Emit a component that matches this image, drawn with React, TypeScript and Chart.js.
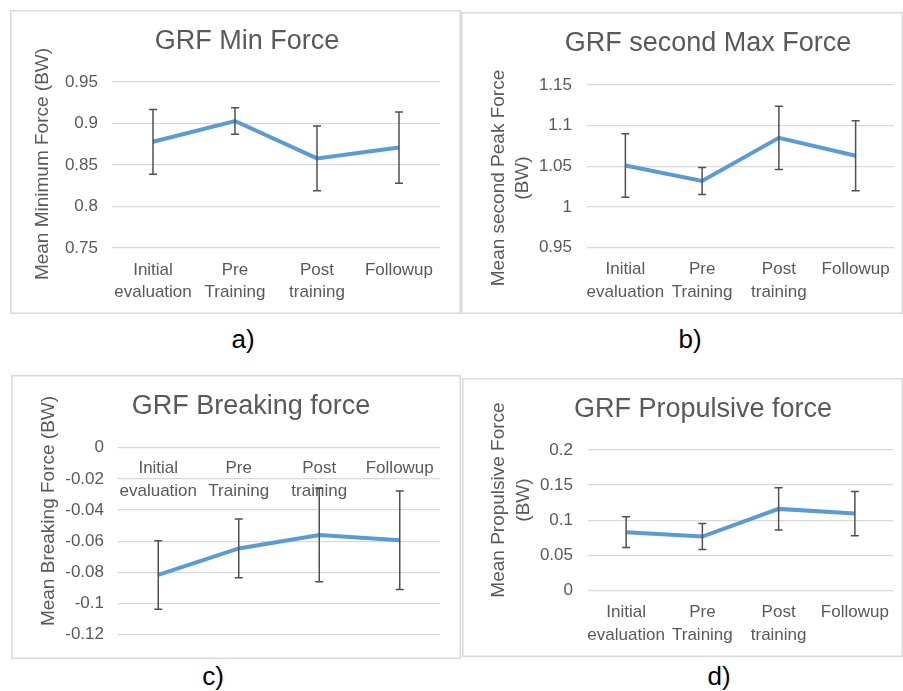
import { useEffect, useRef } from "react";
import { Chart, registerables } from "chart.js";

Chart.register(...registerables);

const FONT = "'Liberation Sans', Arial, Helvetica, sans-serif";
const GRAY = "#595959";
const BLUE = "#5b9bd5";
const GRID = "#d9d9d9";
const ERR = "#505050";

// ---- data ----
const categories: (string | string[])[] = [
  ["Initial", "evaluation"],
  ["Pre", "Training"],
  ["Post", "training"],
  "Followup",
];

const minForceMean = [0.878, 0.903, 0.858, 0.871];
const minForceErr = [0.039, 0.016, 0.039, 0.043];
const minForceTicks = [0.75, 0.8, 0.85, 0.9, 0.95];

const peakForceMean = [1.051, 1.032, 1.085, 1.063];
const peakForceErr = [0.039, 0.0165, 0.039, 0.043];
const peakForceTicks = [0.95, 1, 1.05, 1.1, 1.15];

const brakingMean = [-0.0816, -0.0646, -0.056, -0.0594];
const brakingErr = [0.022, 0.0188, 0.03, 0.0316];
const brakingTicks = [-0.12, -0.1, -0.08, -0.06, -0.04, -0.02, 0];

const propulsiveMean = [0.0831, 0.0769, 0.1162, 0.1095];
const propulsiveErr = [0.0218, 0.0185, 0.03, 0.0315];
const propulsiveTicks = [0, 0.05, 0.1, 0.15, 0.2];

interface PanelCfg {
  left: number;
  top: number;
  width: number;
  height: number;
  title: string;
  yTitle: string[];
  yTitleX: number[];
  yTitleY: number;
  mean: number[];
  err: number[];
  ticks: number[];
  padL: number;
  padR: number;
  padB: number;
  yWidth: number;
  xHeight: number;
  titlePadTop: number;
  titlePadBottom: number;
  yTickPad: number;
  xTickPad: number;
  xAtZero: boolean;
}

const panels: PanelCfg[] = [
  {
    left: 10, top: 10, width: 451, height: 304,
    title: "GRF Min Force",
    yTitle: ["Mean Minimum Force (BW)"], yTitleX: [33], yTitleY: 154,
    mean: minForceMean, err: minForceErr, ticks: minForceTicks,
    padL: 44, padR: 21, padB: 0, yWidth: 58, xHeight: 66,
    titlePadTop: 15.3, titlePadBottom: 24.3, yTickPad: 14, xTickPad: 11, xAtZero: false,
  },
  {
    left: 461, top: 12, width: 442, height: 302,
    title: "GRF second Max Force",
    yTitle: ["Mean second Peak Force", "(BW)"], yTitleX: [37.5, 61.5], yTitleY: 166,
    mean: peakForceMean, err: peakForceErr, ticks: peakForceTicks,
    padL: 61, padR: 9, padB: 0, yWidth: 65, xHeight: 66.3,
    titlePadTop: 15.6, titlePadBottom: 25, yTickPad: 15, xTickPad: 11, xAtZero: false,
  },
  {
    left: 11, top: 375, width: 450, height: 284,
    title: "GRF Breaking force",
    yTitle: ["Mean Breaking Force (BW)"], yTitleX: [38], yTitleY: 136,
    mean: brakingMean, err: brakingErr, ticks: brakingTicks,
    padL: 51, padR: 21, padB: 21.7, yWidth: 56, xHeight: 0,
    titlePadTop: 15.1, titlePadBottom: 25.2, yTickPad: 14, xTickPad: 10, xAtZero: true,
  },
  {
    left: 462, top: 378, width: 441, height: 279,
    title: "GRF Propulsive force",
    yTitle: ["Mean Propulsive Force", "(BW)"], yTitleX: [36.3, 61.5], yTitleY: 122,
    mean: propulsiveMean, err: propulsiveErr, ticks: propulsiveTicks,
    padL: 51, padR: 10, padB: 0, yWidth: 75, xHeight: 66.3,
    titlePadTop: 15.5, titlePadBottom: 24, yTickPad: 15, xTickPad: 11, xAtZero: false,
  },
];

const letters = [
  { text: "a)", x: 243, y: 339 },
  { text: "b)", x: 690, y: 339 },
  { text: "c)", x: 213, y: 676 },
  { text: "d)", x: 719, y: 676 },
];

function fmt(v: number): string {
  return String(Number(Number(v).toFixed(3)));
}

function Panel({ cfg }: { cfg: PanelCfg }) {
  const ref = useRef<HTMLCanvasElement>(null);

  useEffect(() => {
    const canvas = ref.current;
    if (!canvas) return;

    const errorBars = {
      id: "errorBars",
      afterDatasetsDraw(chart: any) {
        const ctx = chart.ctx;
        const meta = chart.getDatasetMeta(0);
        const ys = chart.scales.y;
        ctx.save();
        ctx.strokeStyle = ERR;
        ctx.lineWidth = 1.5;
        meta.data.forEach((pt: any, i: number) => {
          const x = pt.x;
          const yt = ys.getPixelForValue(cfg.mean[i] + cfg.err[i]);
          const yb = ys.getPixelForValue(cfg.mean[i] - cfg.err[i]);
          ctx.beginPath();
          ctx.moveTo(x, yt);
          ctx.lineTo(x, yb);
          ctx.moveTo(x - 4, yt);
          ctx.lineTo(x + 4, yt);
          ctx.moveTo(x - 4, yb);
          ctx.lineTo(x + 4, yb);
          ctx.stroke();
        });
        ctx.restore();
      },
    };

    const yTitle = {
      id: "yTitle",
      afterDraw(chart: any) {
        const ctx = chart.ctx;
        ctx.save();
        ctx.fillStyle = GRAY;
        ctx.font = `19px ${FONT}`;
        ctx.textAlign = "center";
        ctx.textBaseline = "middle";
        cfg.yTitle.forEach((line, i) => {
          ctx.save();
          ctx.translate(cfg.yTitleX[i], cfg.yTitleY);
          ctx.rotate(-Math.PI / 2);
          ctx.fillText(line, 0, 0);
          ctx.restore();
        });
        ctx.restore();
      },
    };

    const tMin = Math.min(...cfg.ticks);
    const tMax = Math.max(...cfg.ticks);

    const xScale: any = {
      type: "category",
      offset: true,
      grid: { display: false, drawTicks: false },
      border: { display: false },
      ticks: {
        autoSkip: false,
        maxRotation: 0,
        minRotation: 0,
        padding: cfg.xTickPad,
        color: GRAY,
        font: { family: FONT, size: 17, lineHeight: 1.3 },
      },
    };
    if (cfg.xAtZero) {
      xScale.position = { y: 0 };
    } else {
      xScale.position = "bottom";
      xScale.afterFit = (s: any) => {
        s.height = cfg.xHeight;
      };
    }

    const chart = new Chart(canvas, {
      type: "line",
      data: {
        labels: categories as any,
        datasets: [
          {
            data: cfg.mean,
            borderColor: BLUE,
            backgroundColor: BLUE,
            borderWidth: 4,
            pointRadius: 0,
            tension: 0,
            fill: false,
          },
        ],
      },
      options: {
        animation: false,
        responsive: false,
        maintainAspectRatio: false,
        layout: {
          padding: { left: cfg.padL, right: cfg.padR, top: 0, bottom: cfg.padB },
        },
        plugins: {
          legend: { display: false },
          tooltip: { enabled: false },
          title: {
            display: true,
            text: cfg.title,
            color: GRAY,
            font: { family: FONT, size: 27, weight: "normal", lineHeight: 1.2 },
            padding: { top: cfg.titlePadTop, bottom: cfg.titlePadBottom },
          },
        },
        scales: {
          x: xScale,
          y: {
            type: "linear",
            min: tMin,
            max: tMax,
            afterBuildTicks: (s: any) => {
              s.ticks = cfg.ticks.map((v) => ({ value: v }));
            },
            afterFit: (s: any) => {
              s.width = cfg.yWidth;
            },
            grid: { color: GRID, lineWidth: 1.3, drawTicks: false },
            border: { display: false },
            ticks: {
              padding: cfg.yTickPad,
              color: GRAY,
              font: { family: FONT, size: 17 },
              callback: (v: any) => fmt(Number(v)),
            },
          },
        },
      } as any,
      plugins: [errorBars, yTitle],
    });

    return () => chart.destroy();
  }, [cfg]);

  return (
    <div
      style={{
        position: "absolute",
        left: cfg.left,
        top: cfg.top,
        width: cfg.width,
        height: cfg.height,
        boxShadow: "inset 0 0 0 1.5px #d9d9d9",
      }}
    >
      <canvas
        ref={ref}
        width={cfg.width}
        height={cfg.height}
        style={{ display: "block", width: cfg.width, height: cfg.height }}
      />
    </div>
  );
}

export default function App() {
  return (
    <div
      style={{
        position: "fixed",
        left: 0,
        top: 0,
        width: 903,
        height: 691,
        background: "#ffffff",
        overflow: "hidden",
      }}
    >
      {panels.map((p, i) => (
        <Panel key={i} cfg={p} />
      ))}
      {letters.map((l) => (
        <div
          key={l.text}
          style={{
            position: "absolute",
            left: l.x - 30,
            top: l.y - 15,
            width: 60,
            height: 30,
            lineHeight: "30px",
            textAlign: "center",
            fontFamily: FONT,
            fontSize: 26,
            color: "#000000",
          }}
        >
          {l.text}
        </div>
      ))}
    </div>
  );
}
